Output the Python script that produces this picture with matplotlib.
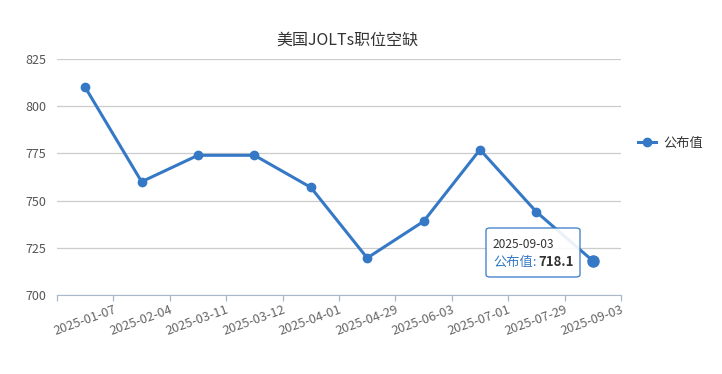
import matplotlib
matplotlib.use("Agg")
import matplotlib.pyplot as plt
from matplotlib.lines import Line2D
from matplotlib.patches import FancyBboxPatch

plt.rcParams['font.family'] = ['Noto Sans CJK SC', 'DejaVu Sans']

dates = ["2025-01-07", "2025-02-04", "2025-03-11", "2025-03-12", "2025-04-01",
         "2025-04-29", "2025-06-03", "2025-07-01", "2025-07-29", "2025-09-03"]
values = [810, 760, 774, 774, 757, 719.6, 739, 777, 744, 718.1]
yticks = [700, 725, 750, 775, 800, 825]

color = "#3579c6"
axis_color = "#aab8c8"
fig = plt.figure(figsize=(7.22, 3.74), dpi=100)
ax = fig.add_axes([57/722, 1-295/374, (621-57)/722, (295-59)/374])

x = list(range(len(dates)))
ax.plot(x, values, color=color, lw=2.2, marker='o', ms=6, zorder=3)
ax.plot([x[-1]], [values[-1]], marker='o', ms=8, color=color, zorder=4)

ax.set_xlim(-0.5, len(dates) - 0.5)
ax.set_ylim(700, 825)
ax.set_yticks(yticks)
# category labels sit at the right boundary of each category band
ax.set_xticks([i + 0.5 for i in x])
ax.set_xticks([-0.5], minor=True)
ax.set_xticklabels(dates, rotation=20, ha='right', va='top', rotation_mode='anchor',
                   fontsize=9.2, color='#666666')
ax.tick_params(axis='x', which='both', length=4, width=0.9, color=axis_color,
               direction='out', pad=2)
ax.tick_params(axis='y', length=0, pad=8, labelsize=9, labelcolor='#555555')
ax.grid(axis='y', color='#cccccc', lw=0.9)
ax.set_axisbelow(True)
for s in ['top', 'right', 'left']:
    ax.spines[s].set_visible(False)
ax.spines['bottom'].set_color(axis_color)
ax.spines['bottom'].set_zorder(2)

fig.text(347/722, 1-40/374, "美国JOLTs职位空缺", ha='center', va='center',
         fontsize=11.5, color='#333333')

# legend
handle = Line2D([0], [0], color=color, lw=2.2, marker='o', ms=6)
fig.legend([handle], ["公布值"], loc='center left', bbox_to_anchor=(626/722, 1-143/374),
           frameon=False, fontsize=9.5, handlelength=1.4, handletextpad=0.5,
           labelcolor='#333333')

# tooltip
box = FancyBboxPatch((486/722, 1-277/374), (580-486)/722, (277-228)/374,
                     boxstyle="round,pad=0,rounding_size=0.006",
                     transform=fig.transFigure, facecolor='white', alpha=0.9,
                     edgecolor=color, lw=1, zorder=5)
fig.add_artist(box)
fig.text(493/722, 1-245/374, dates[-1], fontsize=8.6, color='#333333',
         va='center', ha='left', zorder=6)
fig.text(493/722, 1-262/374, "公布值:", fontsize=9.5, color=color,
         va='center', ha='left', zorder=6)
fig.text(538/722, 1-262/374, f"{values[-1]}", fontsize=9.5, color='#333333',
         fontweight='bold', va='center', ha='left', zorder=6)

fig.savefig("out.png", dpi=100)
